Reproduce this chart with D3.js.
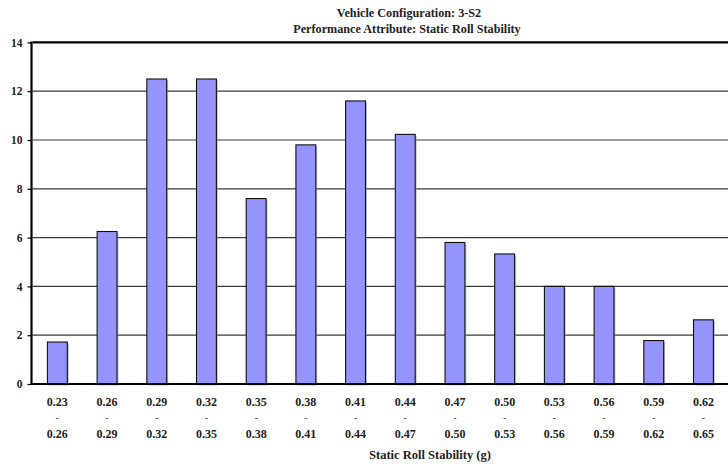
<!DOCTYPE html>
<html>
<head>
<meta charset="utf-8">
<script src="https://cdn.jsdelivr.net/npm/d3@7"></script>
<style>
  html, body { margin: 0; padding: 0; background: #fff; }
  svg { display: block; }
  text { font-family: "Liberation Serif", "DejaVu Serif", serif; font-weight: bold; fill: #222; }
</style>
</head>
<body>
<svg id="chart" width="728" height="466"></svg>
<script>
const binStarts = ["0.23","0.26","0.29","0.32","0.35","0.38","0.41","0.44","0.47","0.50","0.53","0.56","0.59","0.62"];
const binEnds   = ["0.26","0.29","0.32","0.35","0.38","0.41","0.44","0.47","0.50","0.53","0.56","0.59","0.62","0.65"];
const values    = [1.72, 6.25, 12.5, 12.5, 7.6, 9.8, 11.6, 10.23, 5.8, 5.33, 4.0, 4.0, 1.78, 2.63];
const yTicks    = [0, 2, 4, 6, 8, 10, 12, 14];
const titleLines = ["Vehicle Configuration: 3-S2", "Performance Attribute: Static Roll Stability"];
const xTitle = "Static Roll Stability (g)";

(function () {
const svg = d3.select("#chart");
const pLeft = 32.5, pRight = 728.3, pTop = 42.4, pBottom = 384;

const x = d3.scaleBand().domain(binStarts).range([pLeft, pRight]).paddingInner(0.6).paddingOuter(0.3);
const y = d3.scaleLinear().domain([0, 14]).range([pBottom, pTop]);

// gridlines
svg.append("g").selectAll("line").data(yTicks.filter(t => t > 0 && t < 14)).join("line")
  .attr("x1", pLeft).attr("x2", 728).attr("y1", d => y(d)).attr("y2", d => y(d))
  .attr("stroke", "#3a3a3a").attr("stroke-width", 1.2);

// top border
svg.append("line").attr("x1", pLeft).attr("x2", 728).attr("y1", y(14)).attr("y2", y(14))
  .attr("stroke", "#000").attr("stroke-width", 2.2);

// bars shadow
svg.append("g").selectAll("rect").data(values).join("rect")
  .attr("x", (d, i) => x(binStarts[i]) + 1.5).attr("y", d => y(d) + 1.5)
  .attr("width", x.bandwidth()).attr("height", d => pBottom - y(d))
  .attr("fill", "#999").attr("opacity", 0.6);
// bars
svg.append("g").selectAll("rect").data(values).join("rect")
  .attr("x", (d, i) => x(binStarts[i])).attr("y", d => y(d))
  .attr("width", x.bandwidth()).attr("height", d => pBottom - y(d))
  .attr("fill", "#9494fc").attr("stroke", "#111").attr("stroke-width", 1.1);

// y axis
const yAxis = d3.axisLeft(y).tickValues(yTicks).tickSize(4).tickPadding(5).tickFormat(d3.format("d"));
const yg = svg.append("g").attr("transform", `translate(${pLeft - 1},0)`).call(yAxis);
yg.select(".domain").remove();
yg.selectAll(".tick line").attr("stroke", "#000").attr("stroke-width", 1.2);
yg.selectAll("text").attr("font-size", 11.5).attr("fill", "#222")
  .style("font-family", '"Liberation Serif", serif').style("font-weight", "bold");
svg.append("line").attr("x1", pLeft - 1).attr("x2", pLeft - 1).attr("y1", pTop - 1).attr("y2", pBottom + 1)
  .attr("stroke", "#000").attr("stroke-width", 2.2);

// zero line
svg.append("line").attr("x1", pLeft - 1).attr("x2", 728).attr("y1", pBottom).attr("y2", pBottom)
  .attr("stroke", "#000").attr("stroke-width", 2.2);

// x labels
const xg = svg.append("g");
binStarts.forEach((s, i) => {
  const cx = x(s) + x.bandwidth() / 2;
  xg.append("text").attr("x", cx).attr("y", 406).attr("text-anchor", "middle").attr("font-size", 12).text(s);
  xg.append("text").attr("x", cx).attr("y", 421).attr("text-anchor", "middle").attr("font-size", 9).attr("fill", "#999").text("-");
  xg.append("text").attr("x", cx).attr("y", 438).attr("text-anchor", "middle").attr("font-size", 12).text(binEnds[i]);
});

// titles
svg.append("text").attr("x", 409).attr("y", 17).attr("text-anchor", "middle").attr("font-size", 12.2).text(titleLines[0]);
svg.append("text").attr("x", 407).attr("y", 33).attr("text-anchor", "middle").attr("font-size", 12.2).text(titleLines[1]);
svg.append("text").attr("x", 430).attr("y", 459).attr("text-anchor", "middle").attr("font-size", 12.5).text(xTitle);
})();
</script>
</body>
</html>
